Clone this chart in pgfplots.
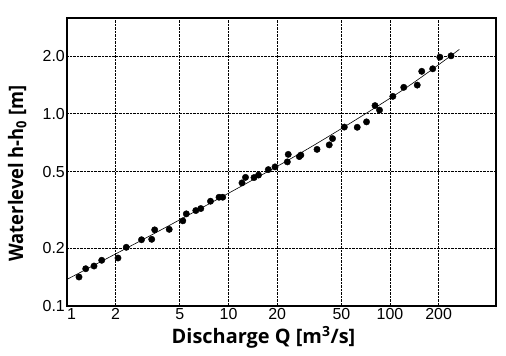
\documentclass[border=0pt]{standalone}
\usepackage{fontspec}
\setmainfont{Liberation Sans}
\newfontfamily\labelfont{Open Sans}
\usepackage{graphicx}
\usepackage{pgfplots}
\pgfplotsset{compat=1.18}
\pgfplotstableread{
x y
1.187 0.1415
1.306 0.1563
1.470 0.1614
1.640 0.1729
2.069 0.1777
2.329 0.2020
2.893 0.2212
3.345 0.2223
3.491 0.2490
4.294 0.2505
5.212 0.2774
5.479 0.3016
6.273 0.3138
6.737 0.3214
7.736 0.3508
8.736 0.3680
9.208 0.3680
12.12 0.4371
12.74 0.4669
14.38 0.4657
15.34 0.4799
17.64 0.5125
19.41 0.5294
23.13 0.5620
23.43 0.6149
27.44 0.5989
28.04 0.6098
35.32 0.6528
42.03 0.6890
44.06 0.7430
52.12 0.8527
62.65 0.8507
71.53 0.9076
80.74 1.103
86.10 1.045
104.1 1.232
121.6 1.373
147.4 1.410
157.1 1.663
183.8 1.714
203.4 1.971
238.6 2.002
}\measured
\pgfplotstableread{
x y
1.010 0.1382
4.343 0.2637
27.71 0.6224
115.3 1.301
268.6 2.162
}\fitline
\begin{document}
\begin{tikzpicture}
\path[use as bounding box] (0,0) rectangle (506bp,356bp);
\begin{axis}[
  at={(67bp,50bp)}, anchor=south west,
  scale only axis, width=429bp, height=288bp,
  xmode=log, ymode=log,
  xmin=1, xmax=453, ymin=0.1, ymax=3.15,
  xtick={1,2,5,10,20,50,100,200},
  xticklabels={\makebox[0pt][l]{1},2,5,10,20,50,100,200},
  ytick={0.1,0.2,0.5,1,2},
  yticklabels={0.1,0.2,0.5,1.0,2.0},
  minor xtick={}, minor ytick={},
  grid=major,
  major grid style={densely dotted, black, line width=0.8bp},
  major tick length=0pt,
  axis line style={line width=1.1bp},
  tick label style={font=\fontsize{16}{18}\selectfont, inner sep=1.5bp},
  xticklabel style={inner sep=1bp, yshift=-1bp},
  yticklabel style={inner sep=1bp, xshift=-1bp},
  xlabel={Discharge Q [m\textsuperscript{3}/s]},
  ylabel={\scalebox{0.92}[1]{Waterlevel h-h\textsubscript{0} [m]}},
  label style={font=\labelfont\bfseries\fontsize{20}{22}\selectfont},
  xlabel style={at={(axis description cs:0.458,-0.108)}, anchor=center},
  ylabel style={at={(axis description cs:-0.116,0.46)}, anchor=center},
]
\addplot[black, line width=0.6bp, smooth] table[x=x,y=y] {\fitline};
\addplot[only marks, mark=*, mark size=3.2bp, black] table[x=x,y=y] {\measured};
\end{axis}
\end{tikzpicture}
\end{document}
